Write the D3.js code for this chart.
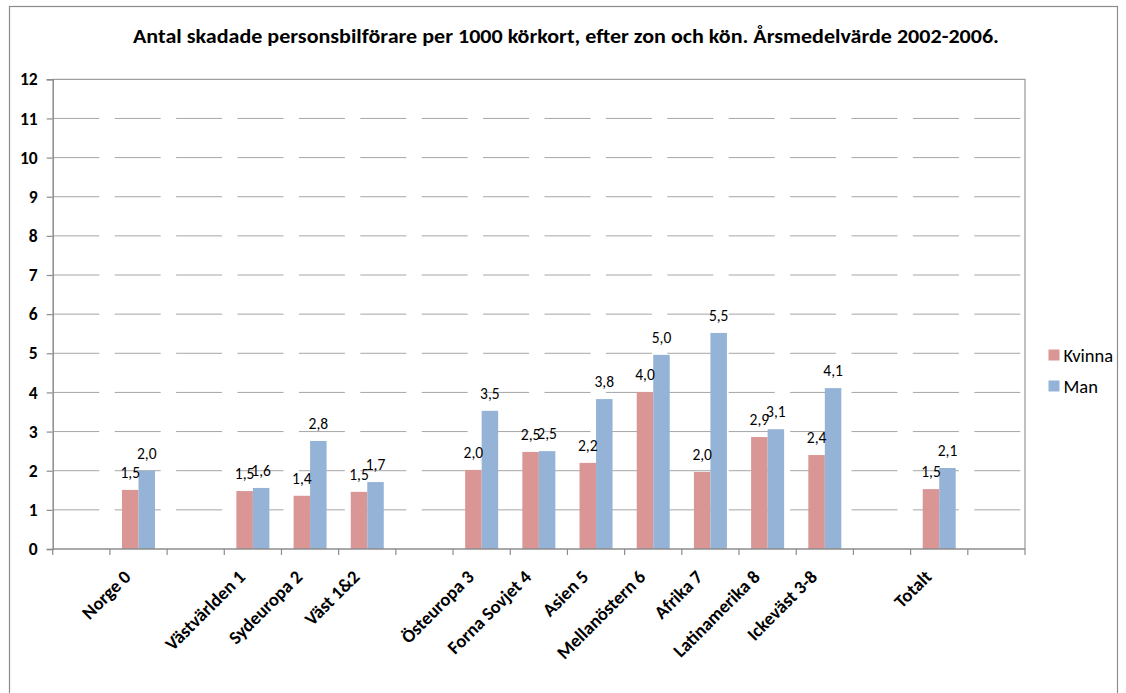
<!DOCTYPE html>
<html>
<head>
<meta charset="utf-8">
<script src="https://cdn.jsdelivr.net/npm/d3@7"></script>
<style>
  html, body { margin: 0; padding: 0; background: #fff; }
  svg { display: block; font-family: Carlito, Calibri, Lato, sans-serif; }
</style>
</head>
<body>
<svg id="chart" width="1126" height="693"></svg>
<script>
const title = "Antal skadade personsbilförare per 1000 körkort, efter zon och kön. Årsmedelvärde 2002-2006.";
const categories = ["", "Norge 0", "", "Västvärlden 1", "Sydeuropa 2", "Väst 1&2", "", "Östeuropa 3", "Forna Sovjet 4", "Asien 5", "Mellanöstern 6", "Afrika 7", "Latinamerika 8", "Ickeväst 3-8", "", "Totalt", ""];
const seriesNames = ["Kvinna", "Man"];
const kvinna = [null, 1.51, null, 1.48, 1.36, 1.46, null, 2.02, 2.48, 2.20, 4.01, 1.97, 2.86, 2.40, null, 1.53, null];
const man    = [null, 2.00, null, 1.56, 2.76, 1.71, null, 3.53, 2.50, 3.83, 4.96, 5.52, 3.06, 4.11, null, 2.07, null];
const yTicks = [0,1,2,3,4,5,6,7,8,9,10,11,12];
const colors = {Kvinna: "#d99694", Man: "#95b3d7"};

const svg = d3.select("#chart");
const L = 52.7, R = 1025, T = 79.3, B = 549;

// outer chart border
svg.append("rect").attr("x", 9.5).attr("y", 6.5).attr("width", 1108).attr("height", 720)
  .attr("fill", "none").attr("stroke", "#8c8c8c").attr("stroke-width", 1.2);

const y = d3.scaleLinear().domain([0, 12]).range([B, T]);
const x0 = d3.scaleBand().domain(d3.range(categories.length)).range([L, R]).padding(0);
const bw = x0.bandwidth();
const x1 = d3.scaleBand().domain(seriesNames).range([bw * 0.2115, bw * 0.7885]).padding(0);

// gridlines (long dash)
svg.append("g").selectAll("line").data(yTicks.filter(t => t > 0 && t < 12)).join("line")
  .attr("x1", L + 0.6).attr("x2", R).attr("y1", d => y(d)).attr("y2", d => y(d))
  .attr("stroke", "#a6a6a6").attr("stroke-width", 1)
  .attr("stroke-dasharray", "46,15.4");

// plot area top & right borders
svg.append("path").attr("d", `M${L},${T}H${R}V${B}`).attr("fill", "none")
  .attr("stroke", "#a0a0a0").attr("stroke-width", 1.3);

// bars
const data = categories.map((c, i) => ({i, values: [{s: "Kvinna", v: kvinna[i]}, {s: "Man", v: man[i]}]}));
const groups = svg.append("g").selectAll("g").data(data).join("g")
  .attr("transform", d => `translate(${x0(d.i)},0)`);
groups.selectAll("rect").data(d => d.values.filter(e => e.v != null)).join("rect")
  .attr("x", d => x1(d.s)).attr("width", x1.bandwidth())
  .attr("y", d => y(d.v)).attr("height", d => y(0) - y(d.v))
  .attr("fill", d => colors[d.s]);
groups.selectAll("text").data(d => d.values.filter(e => e.v != null)).join("text")
  .attr("x", d => x1(d.s) + x1.bandwidth() / 2)
  .attr("y", d => y(d.v) - 12)
  .attr("text-anchor", "middle")
  .attr("font-size", "15.5px").attr("fill", "#000")
  .text(d => d.v.toFixed(1).replace(".", ","));

// y axis
const yAxis = svg.append("g").attr("transform", `translate(${L},0)`)
  .call(d3.axisLeft(y).tickValues(yTicks).tickSize(6).tickPadding(9).tickFormat(d3.format("d")));
yAxis.select(".domain").attr("stroke", "#8c8c8c").attr("stroke-width", 1.5);
yAxis.selectAll(".tick line").attr("stroke", "#8c8c8c").attr("stroke-width", 1.2);
yAxis.selectAll("text").attr("font-size", "17.5px").attr("font-weight", "bold").attr("fill", "#000")
  .attr("font-family", "Carlito, Calibri, Lato, sans-serif");

// x axis
const xAxis = svg.append("g").attr("transform", `translate(0,${B})`);
xAxis.append("line").attr("x1", L).attr("x2", R).attr("y1", 0).attr("y2", 0)
  .attr("stroke", "#8c8c8c").attr("stroke-width", 1.5);
const bounds = categories.map((c, i) => x0(i)).concat([R]);
xAxis.selectAll("line.tk").data(bounds).join("line").attr("class", "tk")
  .attr("x1", d => d).attr("x2", d => d).attr("y1", 0).attr("y2", 6)
  .attr("stroke", "#8c8c8c").attr("stroke-width", 1.2);
xAxis.selectAll("text").data(categories.map((c, i) => ({c, i})).filter(d => d.c !== "")).join("text")
  .attr("transform", d => `translate(${x0(d.i) + bw / 2 - 6.5},29) rotate(-45)`)
  .attr("text-anchor", "end")
  .attr("font-size", "18.5px").attr("font-weight", "bold").attr("fill", "#000")
  .text(d => d.c);

// title
svg.append("text").attr("x", 566).attr("y", 43).attr("text-anchor", "middle")
  .attr("font-size", "19.5px").attr("font-weight", "bold").attr("fill", "#000")
  .attr("textLength", 866).attr("lengthAdjust", "spacingAndGlyphs")
  .text(title);

// legend
const leg = svg.append("g").selectAll("g").data(seriesNames).join("g")
  .attr("transform", (d, i) => `translate(1048.5,${355 + i * 31})`);
leg.append("rect").attr("x", 0).attr("y", -5.5).attr("width", 11).attr("height", 11)
  .attr("fill", d => colors[d]);
leg.append("text").attr("x", 15).attr("y", 6.5).attr("font-size", "18.5px").attr("fill", "#000")
  .text(d => d);
</script>
</body>
</html>
